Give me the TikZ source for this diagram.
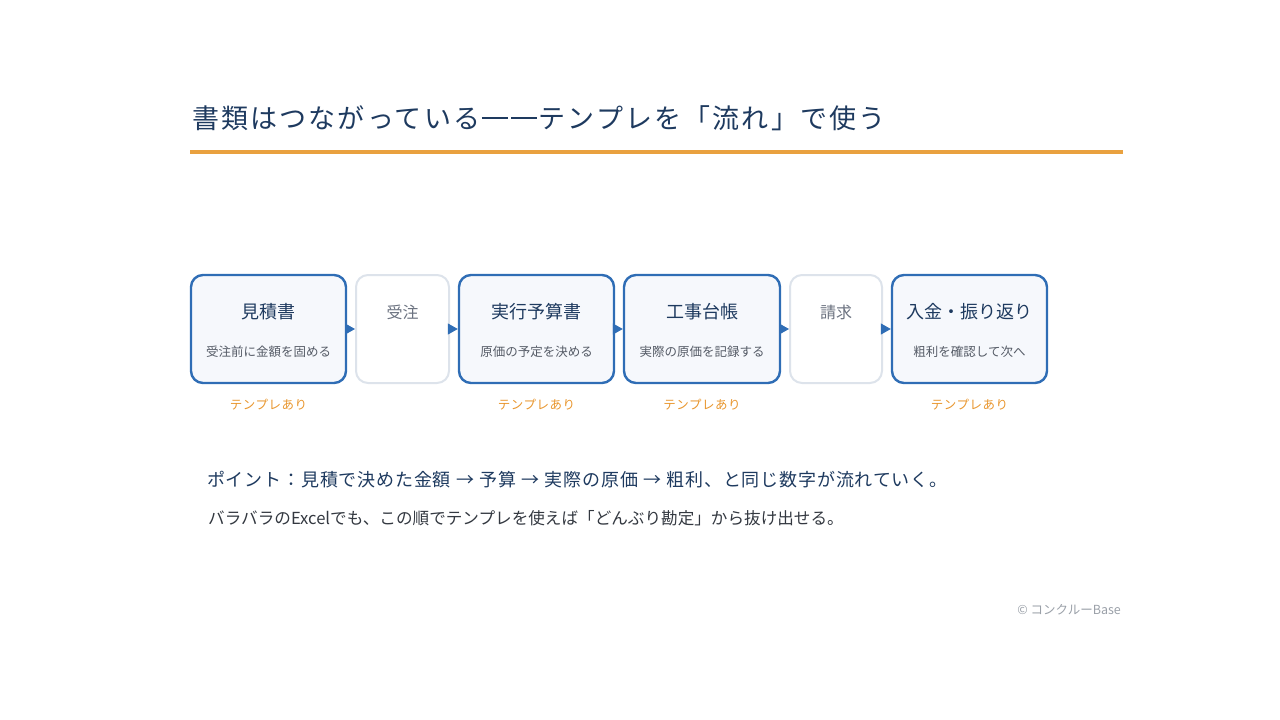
\documentclass[tikz,border=0pt]{standalone}
\usepackage{fontspec}
\setmainfont{Noto Sans CJK JP}
\usetikzlibrary{arrows.meta}
\definecolor{navy}{HTML}{1E3A5F}
\definecolor{boxblue}{HTML}{2F6DB5}
\definecolor{boxfill}{HTML}{F6F8FC}
\definecolor{lightborder}{HTML}{DDE3EB}
\definecolor{orangeline}{HTML}{E9A13F}
\definecolor{orangetext}{HTML}{E8962E}
\definecolor{subgray}{HTML}{555B66}
\definecolor{mutedgray}{HTML}{6B7280}
\definecolor{bodygray}{HTML}{333840}
\definecolor{copygray}{HTML}{9AA0A8}
\newcommand{\fwdash}{\makebox[1.08em]{\rule[0.32em]{0.96em}{0.085em}}}
\newcommand{\fwarrow}{\makebox[1.05em]{→}}
\tikzset{
  docbox/.style={draw=boxblue, line width=2.4pt, fill=boxfill, rounded corners=12pt, inner sep=0pt, minimum height=108pt, minimum width=155pt},
  plainbox/.style={draw=lightborder, line width=2pt, fill=white, rounded corners=12pt, inner sep=0pt, minimum height=108pt, minimum width=93pt},
  maintxt/.style={text=navy, font=\fontsize{18}{20}\selectfont, inner sep=0pt, anchor=center},
  subtxt/.style={text=subgray, font=\fontsize{12.5}{14}\selectfont, inner sep=0pt, anchor=center},
  mutedtxt/.style={text=mutedgray, font=\fontsize{16}{18}\selectfont, inner sep=0pt, anchor=center},
  tagtxt/.style={text=orangetext, font=\fontsize{12.5}{14}\selectfont\addfontfeature{LetterSpace=4}, inner sep=0pt, anchor=center},
  flow/.style={draw=boxblue, line width=1pt, -{Triangle[length=10pt,width=11pt]}, fill=boxblue, shorten <=1pt}
}
\begin{document}
\begin{tikzpicture}[x=1pt, y=-1pt]
\useasboundingbox (0,0) rectangle (1280,720);
% title
\node[anchor=base west, inner sep=0pt, text=navy, font=\fontsize{27}{30}\selectfont\addfontfeature{LetterSpace=8}] (title) at (192,128) {書類はつながっている\fwdash\fwdash テンプレを「流れ」で使う};
\draw[orangeline, line width=4pt] (190,152) -- (1123,152);
% boxes
\node[docbox] (b1) at (268.5,329) {};
\node[plainbox] (b2) at (402.5,329) {};
\node[docbox] (b3) at (536.5,329) {};
\node[docbox, minimum width=156pt] (b4) at (702,329) {};
\node[plainbox, minimum width=92pt] (b5) at (836,329) {};
\node[docbox] (b6) at (969.5,329) {};
% labels
\node[maintxt] (t1) at (268.5,312) {見積書};
\node[subtxt] (s1) at (268.5,352) {受注前に金額を固める};
\node[mutedtxt] (t2) at (402.5,312) {受注};
\node[maintxt] (t3) at (536.5,312) {実行予算書};
\node[subtxt] (s3) at (536.5,352) {原価の予定を決める};
\node[maintxt] (t4) at (702,312) {工事台帳};
\node[subtxt] (s4) at (702,352) {実際の原価を記録する};
\node[mutedtxt] (t5) at (836,312) {請求};
\node[maintxt] (t6) at (969.5,312) {入金・振り返り};
\node[subtxt] (s6) at (969.5,352) {粗利を確認して次へ};
% tags
\node[tagtxt] (g1) at (268.5,405) {テンプレあり};
\node[tagtxt] (g3) at (536.5,405) {テンプレあり};
\node[tagtxt] (g4) at (702,405) {テンプレあり};
\node[tagtxt] (g6) at (969.5,405) {テンプレあり};
% arrows
\draw[flow] (b1.east) -- (b2.west);
\draw[flow] (b2.east) -- (b3.west);
\draw[flow] (b3.east) -- (b4.west);
\draw[flow] (b4.east) -- (b5.west);
\draw[flow] (b5.east) -- (b6.west);
% notes
\node[anchor=base west, inner sep=0pt, text=navy, font=\fontsize{18}{20}\selectfont\addfontfeature{LetterSpace=4.5}] (p1) at (207,486) {ポイント：見積で決めた金額 \fwarrow{} 予算 \fwarrow{} 実際の原価 \fwarrow{} 粗利、と同じ数字が流れていく。};
\node[anchor=base west, inner sep=0pt, text=bodygray, font=\fontsize{16.6}{18}\selectfont] (p2) at (208,524) {バラバラのExcelでも、この順でテンプレを使えば「どんぶり勘定」から抜け出せる。};
\node[anchor=base east, inner sep=0pt, text=copygray, font=\fontsize{12.5}{14}\selectfont] (cr) at (1121,614) {© コンクルーBase};
\end{tikzpicture}
\end{document}
